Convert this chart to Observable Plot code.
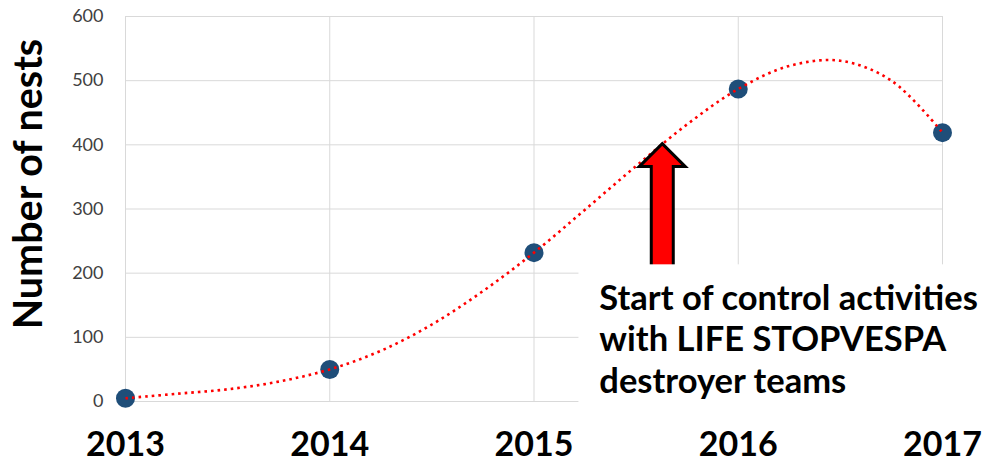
<!DOCTYPE html>
<html>
<head>
<meta charset="utf-8">
<script src="https://cdn.jsdelivr.net/npm/d3@7"></script>
<script src="https://cdn.jsdelivr.net/npm/@observablehq/plot@0.6"></script>
<style>
  html, body { margin: 0; padding: 0; background: #fff; }
</style>
</head>
<body>
<div id="chart"></div>
<script>
// Observed data
const years = [2013, 2014, 2015, 2016, 2017];
const nests = [5, 50, 232, 487, 419];

// Dotted trendline, values at quarter-year steps
const trendX = [2013, 2013.25, 2013.5, 2013.75, 2014, 2014.25, 2014.5, 2014.75, 2015,
                2015.25, 2015.5, 2015.75, 2016, 2016.25, 2016.5, 2016.75, 2017];
const trendY = [5, 12, 19, 31, 50, 79, 120, 172, 232, 299, 367, 432, 487, 523, 531, 500, 419];

const yTicks = [0, 100, 200, 300, 400, 500, 600];
const yLabel = "Number of nests";

// Annotation
const annotationLines = ["Start of control activities", "with LIFE STOPVESPA", "destroyer teams"];
const annotationX = 2015.32;
const annotationY = 99;
const arrowX = 2015.628;
const arrowTailY = 190;
const boxX = [2015.22, 2017.4];
const boxY = [-18, 213];

const points = years.map((y, i) => ({year: y, nests: nests[i]}));
const trend = trendX.map((x, i) => ({x, y: trendY[i]}));

const blockArrow = {
  draw(ctx, l) {
    const sw = 11, hw = 23, hl = 23;
    ctx.moveTo(-sw, 0);
    ctx.lineTo(-sw, -(l - hl));
    ctx.lineTo(-hw, -(l - hl));
    ctx.lineTo(0, -l);
    ctx.lineTo(hw, -(l - hl));
    ctx.lineTo(sw, -(l - hl));
    ctx.lineTo(sw, 0);
    ctx.closePath();
  }
};

const chart = Plot.plot({
  width: 992,
  height: 463,
  marginLeft: 125,
  marginRight: 50,
  marginTop: 16,
  marginBottom: 62,
  style: {fontFamily: "Lato, 'Open Sans', sans-serif", background: "#fff", color: "black"},
  x: {domain: [2013, 2017]},
  y: {domain: [0, 600]},
  marks: [
    Plot.gridX(years, {stroke: "#d9d9d9", strokeOpacity: 1, strokeWidth: 1}),
    Plot.gridY(yTicks, {stroke: "#d9d9d9", strokeOpacity: 1, strokeWidth: 1}),
    Plot.axisY(yTicks, {tickSize: 0, tickPadding: 22, fontSize: 18, fill: "#404040", label: null}),
    Plot.axisX(years, {tickSize: 0, tickPadding: 30, fontSize: 34, fontWeight: "bold", tickFormat: "d", label: null, fill: "black"}),
    Plot.dot(points, {x: "year", y: "nests", r: 9.5, fill: "#1f4e79", stroke: "none"}),
    Plot.line(trend, {x: "x", y: "y", curve: "catmull-rom", stroke: "#ff0000", strokeWidth: 2.6, strokeDasharray: "2.6 4", strokeLinecap: "butt"}),
    Plot.vector([{x: arrowX, y: arrowTailY}], {
      x: "x", y: "y", length: 136, anchor: "start", shape: blockArrow,
      fill: "#ff0000", stroke: "black", strokeWidth: 3, strokeLinejoin: "miter"
    }),
    Plot.rect([{x1: boxX[0], x2: boxX[1], y1: boxY[0], y2: boxY[1]}], {x1: "x1", x2: "x2", y1: "y1", y2: "y2", fill: "#fff"}),
    Plot.text([annotationLines.join("\n")], {
      x: () => annotationX, y: () => annotationY, text: d => d,
      textAnchor: "start", lineAnchor: "middle", lineHeight: 1.2,
      fontSize: 34.5, fontWeight: "bold", fill: "black"
    }),
    Plot.text([yLabel], {
      frameAnchor: "left", rotate: -90, dx: -96, dy: -25, textAnchor: "middle",
      fontSize: 39.5, fontWeight: "bold", fill: "black", lineAnchor: "middle"
    })
  ]
});
document.getElementById("chart").appendChild(chart);
</script>
</body>
</html>
